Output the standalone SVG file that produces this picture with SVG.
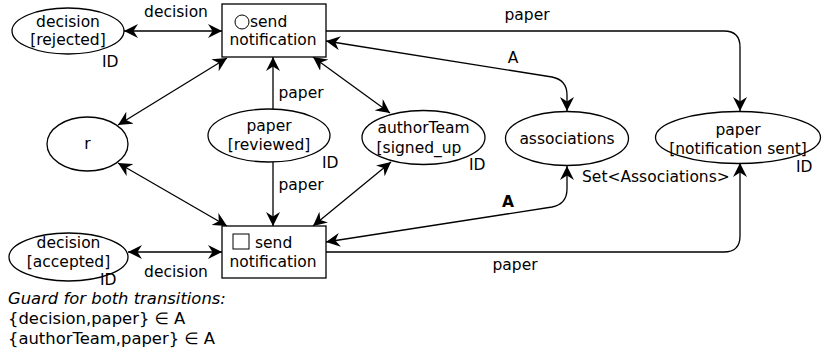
<svg xmlns="http://www.w3.org/2000/svg" width="823" height="354" viewBox="0 0 823 354">
<style>
text{font-family:"DejaVu Sans",Verdana,sans-serif;font-size:15.5px;fill:#000}
.c{text-anchor:middle}
.n{fill:#fff;stroke:#000;stroke-width:1.3}
.e{fill:none;stroke:#000;stroke-width:1.3;marker-end:url(#ah)}
.b{marker-start:url(#ah)}
.g{font-size:16.4px}
.i{font-style:italic}
</style>
<defs>
<marker id="ah" viewBox="0 -7 14 14" refX="14" refY="0" markerWidth="14" markerHeight="14" markerUnits="userSpaceOnUse" orient="auto-start-reverse">
<path d="M0,-7 L14,0 L0,7 L4.5,0 z" fill="#000"/>
</marker>
</defs>
<rect width="823" height="354" fill="#fff"/>
<g id="connectors">
<path class="e b" d="M124,31 L222,31"/>
<path class="e" d="M326,31 L724,31 Q740,31 740,47 L740,111"/>
<path class="e b" d="M326,41 L552,77 Q567,80 567,95 L567,111"/>
<path class="e b" d="M313,57 L390,113"/>
<path class="e b" d="M118,125 L227,58"/>
<path class="e" d="M273,109 L273,57"/>
<path class="e" d="M273,162 L273,226"/>
<path class="e b" d="M118,163 L227,226"/>
<path class="e b" d="M391,162 L313,226"/>
<path class="e b" d="M326,242 L552,207 Q567,204 567,189 L567,166"/>
<path class="e" d="M326,252 L724,252 Q740,252 740,236 L740,163"/>
<path class="e b" d="M128,252 L222,252"/>
<text x="176" y="17" class="c">decision</text>
<text x="527" y="20" class="c">paper</text>
<text x="513" y="63" class="c">A</text>
<text x="301" y="98" class="c">paper</text>
<text x="301" y="190" class="c">paper</text>
<text x="508" y="207" class="c" font-weight="bold">A</text>
<text x="515" y="270" class="c">paper</text>
<text x="176" y="277" class="c">decision</text>
</g>
<g id="t_top">
<rect class="n" x="222" y="4" width="104" height="53"/>
<circle cx="242" cy="22" r="7" fill="none" stroke="#000" stroke-width="1"/>
<text x="250" y="27">send</text>
<text x="273" y="45" class="c">notification</text>
</g>
<g id="t_bottom">
<rect class="n" x="222" y="226" width="104" height="52"/>
<rect x="233" y="234" width="16" height="15" fill="none" stroke="#000" stroke-width="1"/>
<text x="255" y="248">send</text>
<text x="273" y="267" class="c">notification</text>
</g>
<g id="p_rejected">
<ellipse class="n" cx="68" cy="31" rx="56" ry="23"/>
<text x="68" y="27" class="c">decision</text>
<text x="68" y="45" class="c">[rejected]</text>
<text x="102" y="67">ID</text>
</g>
<g id="p_r">
<ellipse class="n" cx="87.5" cy="144" rx="40.5" ry="27"/>
<text x="87.5" y="149" class="c">r</text>
</g>
<g id="p_reviewed">
<ellipse class="n" cx="269" cy="135.5" rx="61" ry="26.5"/>
<text x="269" y="131" class="c">paper</text>
<text x="269" y="150" class="c">[reviewed]</text>
<text x="322" y="168">ID</text>
</g>
<g id="p_author">
<ellipse class="n" cx="423.5" cy="137.5" rx="61.5" ry="27"/>
<text x="423.5" y="133" class="c">authorTeam</text>
<text x="419" y="153" class="c">[signed_up</text>
<text x="469" y="170">ID</text>
</g>
<g id="p_assoc">
<ellipse class="n" cx="567" cy="138.5" rx="61.5" ry="27"/>
<text x="567" y="144" class="c">associations</text>
<text x="582" y="182">Set&lt;Associations&gt;</text>
</g>
<g id="p_sent">
<ellipse class="n" cx="738" cy="137.5" rx="82.5" ry="26"/>
<text x="738" y="135" class="c">paper</text>
<text x="738" y="154" class="c">[notification sent]</text>
<text x="796" y="172">ID</text>
</g>
<g id="p_accepted">
<ellipse class="n" cx="68.5" cy="257" rx="59.5" ry="24"/>
<text x="68.5" y="248" class="c">decision</text>
<text x="68.5" y="267" class="c">[accepted]</text>
<text x="100" y="285">ID</text>
</g>
<g id="guard">
<text x="8" y="304" class="g i">Guard for both transitions:</text>
<text x="8" y="324" class="g">{decision,paper} ∈ A</text>
<text x="8" y="344" class="g">{authorTeam,paper} ∈ A</text>
</g>
</svg>
